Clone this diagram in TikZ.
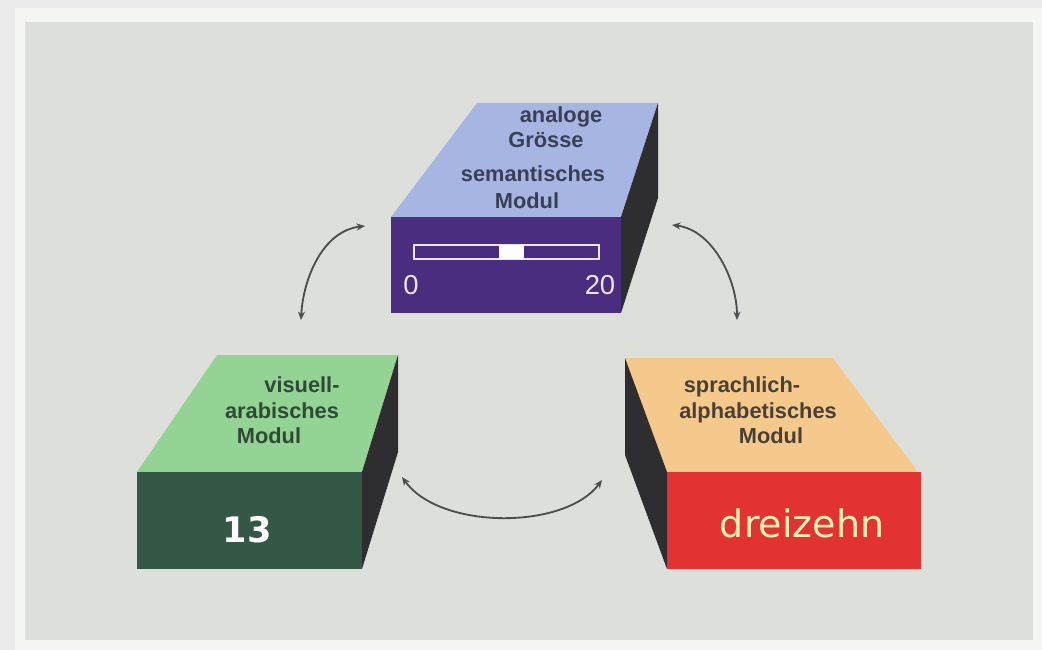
\documentclass[tikz,border=0pt]{standalone}
\usepackage{fontspec}
\setmainfont{Liberation Sans}
\newfontfamily\zahlfont{DejaVu Sans}
\usetikzlibrary{arrows.meta}

\definecolor{rand}{HTML}{EBEBEB}
\definecolor{blatt}{HTML}{F5F6F2}
\definecolor{papier}{HTML}{DDDFDB}
\definecolor{seite}{HTML}{2E2E30}
\definecolor{blauoben}{HTML}{A7B5E3}
\definecolor{blautext}{HTML}{394056}
\definecolor{lila}{HTML}{4B2D80}
\definecolor{skalaweiss}{HTML}{ECE6F2}
\definecolor{gruenoben}{HTML}{93D394}
\definecolor{gruenvorn}{HTML}{355746}
\definecolor{gruentext}{HTML}{2E4B35}
\definecolor{pfirsich}{HTML}{F5C98C}
\definecolor{rot}{HTML}{E23232}
\definecolor{brauntext}{HTML}{4A4036}
\definecolor{hellgelb}{HTML}{F6F2B5}
\definecolor{pfeilgrau}{HTML}{4D4D4D}

\begin{document}
\begin{tikzpicture}[x=0.025cm,y=-0.025cm,
  lbl/.style={anchor=base,font=\bfseries\fontsize{15.5}{18}\selectfont},
  skala/.style={anchor=base,text=skalaweiss,font=\fontsize{19.5}{22}\selectfont},
  pfeil/.style={{Stealth[length=6pt,width=5pt]}-{Stealth[length=6pt,width=5pt]},
    line width=1.3pt,draw=pfeilgrau}]
\useasboundingbox (0,0) rectangle (1042,650);

%hintergrund
\fill[rand] (0,0) rectangle (1042,650);
\fill[blatt] (15,8) rectangle (1042,650);
\fill[papier] (25,22) rectangle (1033,640);

%semantisches Modul (oben)
\fill[blauoben] (391,217) -- (477,103) -- (658,103) -- (621,217) -- cycle;
\fill[seite] (621,217) -- (658,103) -- (658,198) -- (621,313) -- cycle;
\fill[lila] (391,217) rectangle (621,313);
\node[lbl,text=blautext] (analoge) at (561,123) {analoge};
\node[lbl,text=blautext] (groesse) at (546,148) {Grösse};
\node[lbl,text=blautext] (semantisch) at (533,182) {semantisches};
\node[lbl,text=blautext] (modulS) at (527,208) {Modul};
%skala 0..20
\draw[skalaweiss,line width=1.4pt] (414,245) rectangle (599,259);
\fill[white] (499,245) rectangle (524,259);
\node[skala] (null) at (411,294) {0};
\node[skala] (zwanzig) at (600,294) {20};

%visuell-arabisches Modul (links)
\fill[gruenoben] (137,472) -- (217,355) -- (398,355) -- (362,472) -- cycle;
\fill[seite] (362,472) -- (398,355) -- (398,452) -- (362,569) -- cycle;
\fill[gruenvorn] (137,472) rectangle (362,569);
\node[lbl,text=gruentext] (visuell) at (302,392) {visuell-};
\node[lbl,text=gruentext] (arabisch) at (282,418) {arabisches};
\node[lbl,text=gruentext] (modulV) at (269,443) {Modul};
\node[anchor=base,text=white,font=\zahlfont\bfseries\fontsize{25}{28}\selectfont]
  (dreizehnZ) at (247,542) {13};

%sprachlich-alphabetisches Modul (rechts)
\fill[pfirsich] (625,358) -- (833,358) -- (918,472) -- (667,472) -- cycle;
\fill[seite] (625,358) -- (667,472) -- (667,569) -- (625,455) -- cycle;
\fill[rot] (667,472) rectangle (921,569);
\node[lbl,text=brauntext] (sprachlich) at (742,392) {sprachlich-};
\node[lbl,text=brauntext] (alphabet) at (758,418) {alphabetisches};
\node[lbl,text=brauntext] (modulA) at (771,443) {Modul};
\node[anchor=base,text=hellgelb,font=\zahlfont\fontsize{27}{30}\selectfont]
  (dreizehnW) at (802,537) {dreizehn};

%pfeile
\coordinate (sL) at (365,226);
\coordinate (vO) at (301,320);
\coordinate (sR) at (672,225);
\coordinate (aO) at (737,320);
\coordinate (vR) at (402,477);
\coordinate (aL) at (602,480);
\draw[pfeil] (sL) .. controls (322,231) and (303,280) .. (vO);
\draw[pfeil] (sR) .. controls (713,230) and (737,280) .. (aO);
\draw[pfeil] (vR) .. controls (440,530) and (565,530) .. (aL);

\end{tikzpicture}
\end{document}
